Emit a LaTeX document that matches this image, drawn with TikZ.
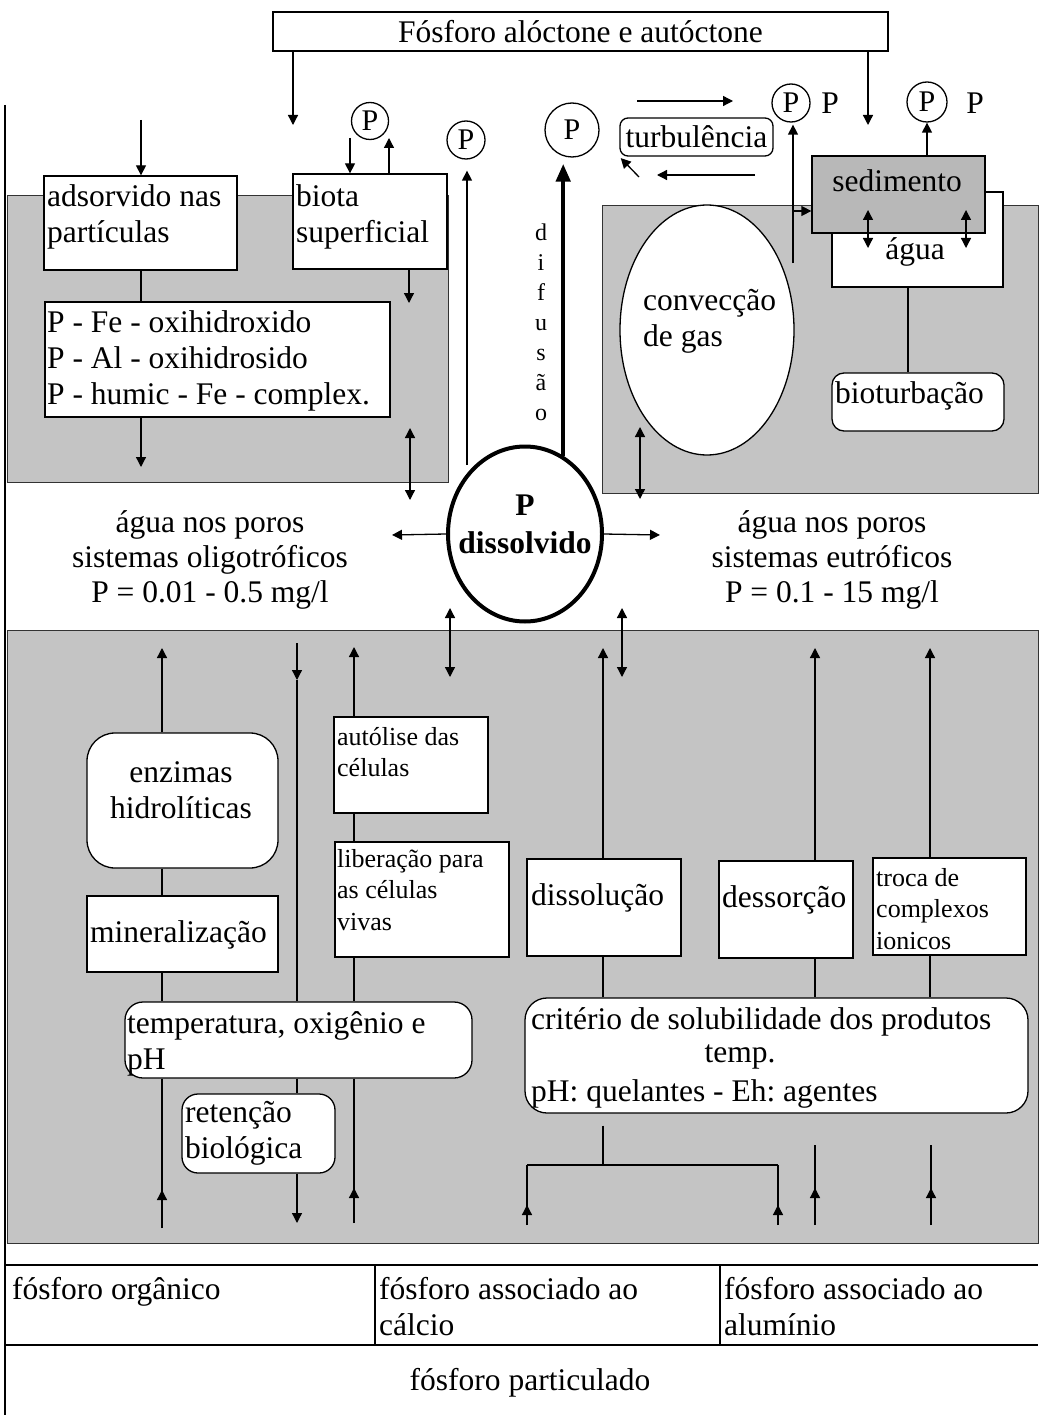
\documentclass[tikz,border=0pt]{standalone}
\usepackage{fontspec}
\setmainfont{Liberation Serif}
\usetikzlibrary{arrows.meta,shapes.geometric}
\begin{document}
\frenchspacing
\begin{tikzpicture}[x=1pt,y=-1pt,
  every node/.style={font=\fontsize{31.5}{36}\selectfont},
  shadearea/.style={fill=black!23, draw=black!80, line width=0.9pt},
  box/.style={draw, fill=white, line width=1.3pt, inner sep=0pt},
  rbox/.style={box, rounded corners=#1},
  txt/.style={inner sep=0pt, align=left, anchor=west},
  ctxt/.style={inner sep=0pt, align=center},
  small/.style={font=\fontsize{26}{31.5}\selectfont},
  ln/.style={line width=1.3pt},
  arr/.style={line width=1.3pt, -{Triangle[length=10pt,width=10pt]}},
  darr/.style={line width=1.3pt, {Triangle[length=10pt,width=10pt]}-{Triangle[length=10pt,width=10pt]}},
  pc/.style={circle, draw, line width=1.3pt, inner sep=0pt, minimum size=#1, font=\fontsize{30}{32}\selectfont},
]
\useasboundingbox (0,0) rectangle (1038,1415);
\fill[white] (0,0) rectangle (1038,1415);

% shaded areas
\path[shadearea] (7,195) rectangle (448,482);
\path[shadearea] (602,205) rectangle (1038,493);
\path[shadearea] (7,630) rectangle (1038,1243);

% frame and table
\draw[ln] (5,105) -- (5,1415);
\draw[ln] (5,1265) -- (1038,1265);
\draw[ln] (5,1345) -- (1038,1345);
\draw[ln] (375,1265) -- (375,1345);
\draw[ln] (720,1265) -- (720,1345);

% ---------- top part ----------
\node[box, minimum width=615pt, minimum height=39pt] (topbox) at (580.5,31.5) {Fósforo alóctone e autóctone};
\node[box, minimum width=193pt, minimum height=94pt] (ads) at (140.5,223) {};
\node[txt] (adst) at (47,217) {adsorvido nas\\partículas};
\node[box, minimum width=154pt, minimum height=95pt] (biota) at (370,221.5) {};
\node[txt] (biotat) at (296,217) {biota\\superficial};
\node[box, minimum width=345pt, minimum height=115pt] (pfe) at (217.5,359.5) {};
\node[txt] (pfet) at (47,361) {P - Fe - oxihidroxido\\P - Al - oxihidrosido\\P - humic - Fe - complex.};

\node[pc=37pt] (p1) at (370,121) {P};
\node[pc=38pt] (p2) at (466,140) {P};
\node[pc=54pt] (p3) at (572,130) {P};
\node[pc=38pt] (p4) at (791,103) {P};
\node[pc=40pt] (p5) at (927,102) {P};
\node[ctxt] (pl1) at (830,103) {P};
\node[ctxt] (pl2) at (975,103) {P};

\node[rbox=8pt, minimum width=153pt, minimum height=38pt] (turb) at (696.5,137) {turbulência};
\node[ellipse, draw, fill=white, line width=1.3pt, minimum width=174pt, minimum height=250pt, inner sep=0pt] (conv) at (707,330) {};
\node[txt] (convt) at (643,321) {convecção\\de gas};

\node[box, minimum width=171pt, minimum height=95pt] (agua) at (917.5,239.5) {};
\node[ctxt] (aguat) at (915,252) {água};
\node[box, fill=black!28, minimum width=173pt, minimum height=77pt] (sed) at (898.5,194.5) {};
\node[ctxt] (sedt) at (897,181) {sedimento};
\node[rbox=12pt, minimum width=172pt, minimum height=58pt] (biot) at (918,402) {};
\node[txt] (biott) at (835,396) {bioturbação};

\node[ellipse, draw, fill=white, line width=4pt, minimum width=154pt, minimum height=175pt, inner sep=0pt] (dis) at (525,534) {};
\node[ctxt, font=\fontsize{31.5}{38}\selectfont\bfseries] (dist) at (525,524) {P\\dissolvido};
\node[ctxt, font=\fontsize{24}{30}\selectfont] (dif) at (541,322) {d\\i\\f\\u\\s\\ã\\o};
\node[ctxt, font=\fontsize{31.5}{35}\selectfont] (poroL) at (210,560) {água nos poros\\sistemas oligotróficos\\P = 0.01 - 0.5 mg/l};
\node[ctxt, font=\fontsize{31.5}{35}\selectfont] (poroR) at (832,560) {água nos poros\\sistemas eutróficos\\P = 0.1 - 15 mg/l};

% ---------- bottom part ----------
\node[rbox=28pt, minimum width=191pt, minimum height=135pt] (enz) at (182.5,800.5) {};
\node[ctxt] (enzt) at (181,790) {enzimas\\hidrolíticas};
\node[box, minimum width=191pt, minimum height=76pt] (mineral) at (182.5,934) {};
\node[txt] (minert) at (90,935) {mineralização};
\node[box, minimum width=154pt, minimum height=96pt] (auto) at (411,765) {};
\node[txt, small] (autot) at (337,752) {autólise das\\células};
\node[box, minimum width=174pt, minimum height=115pt] (liber) at (422,899.5) {};
\node[txt, small] (libert) at (337,890) {liberação para\\as células\\vivas};
\node[rbox=18pt, minimum width=347pt, minimum height=76pt] (temp) at (298.5,1040) {};
\node[txt] (tempt) at (127,1044) {temperatura, oxigênio e\\pH};
\node[rbox=16pt, minimum width=153pt, minimum height=79pt] (ret) at (258.5,1133.5) {};
\node[txt] (rett) at (185,1133.5) {retenção\\biológica};
\node[box, minimum width=154pt, minimum height=97pt] (dissol) at (604,907.5) {};
\node[txt] (dissolt) at (531,898) {dissolução};
\node[box, minimum width=134pt, minimum height=97pt] (dessor) at (786,909.5) {};
\node[txt] (dessort) at (722,900) {dessorção};
\node[box, minimum width=153pt, minimum height=97pt] (troca) at (949.5,906.5) {};
\node[txt, small] (trocat) at (876,909) {troca de\\complexos\\ionicos};
\node[rbox=22pt, minimum width=503pt, minimum height=115pt] (crit) at (776.5,1055.5) {};
\node[txt] (critt1) at (531,1022) {critério de solubilidade dos produtos};
\node[ctxt] (critt2) at (740,1057) {temp.};
\node[txt] (critt3) at (531,1094) {pH: quelantes - Eh: agentes};

\node[txt] (torg) at (12,1292) {fósforo orgânico};
\node[txt] (tcal) at (379,1307) {fósforo associado ao\\cálcio};
\node[txt] (talu) at (724,1307) {fósforo associado ao\\alumínio};
\node[ctxt] (tpart) at (530,1383) {fósforo particulado};

% ---------- coordinates (free ends / guides) ----------
\coordinate (e1) at (293,125);
\coordinate (e2) at (868,125);
\coordinate (e3) at (141,120);
\coordinate (g1) at (141,0);
\coordinate (e5) at (141,467);
\coordinate (e6) at (350,138);
\coordinate (e7) at (389,138);
\coordinate (e8) at (409,303);
\coordinate (e9a) at (410,428);
\coordinate (e9b) at (410,500);
\coordinate (e10) at (467,465);
\coordinate (e12a) at (637,101);
\coordinate (e12b) at (733,101);
\coordinate (e13a) at (755,175);
\coordinate (e13b) at (657,175);
\coordinate (e14) at (639,177);
\coordinate (e15) at (793,263);
\coordinate (e16) at (793,211);
\coordinate (e18a) at (868,210);
\coordinate (e18b) at (868,248);
\coordinate (e18c) at (966,210);
\coordinate (e18d) at (966,248);
\coordinate (g19) at (908,0);
\coordinate (e20a) at (640,427);
\coordinate (e20b) at (640,499);
\coordinate (e21) at (392,535);
\coordinate (e22) at (660,535);

\coordinate (f1) at (162,648);
\coordinate (g2) at (162,0);
\coordinate (f2) at (162,1228);
\coordinate (f2t) at (162,1190);
\coordinate (f3) at (297,643);
\coordinate (f3t) at (297,680);
\coordinate (g3) at (297,0);
\coordinate (f4) at (297,1223);
\coordinate (f5) at (354,647);
\coordinate (g5) at (354,0);
\coordinate (f6) at (354,1223);
\coordinate (f6t) at (354,1188);
\coordinate (f7a) at (450,608);
\coordinate (f7b) at (450,677);
\coordinate (f8a) at (622,608);
\coordinate (f8b) at (622,677);
\coordinate (f9) at (603,648);
\coordinate (g9) at (603,0);
\coordinate (f10) at (603,1165);
\coordinate (f11) at (527,1165);
\coordinate (f11b) at (527,1225);
\coordinate (f11t) at (527,1205);
\coordinate (f12) at (778,1165);
\coordinate (f12b) at (778,1225);
\coordinate (f12t) at (778,1205);
\coordinate (f13) at (815,648);
\coordinate (g13) at (815,0);
\coordinate (f13a) at (815,1145);
\coordinate (f13b) at (815,1225);
\coordinate (f13t) at (815,1188);
\coordinate (f14) at (930,648);
\coordinate (g14) at (930,0);
\coordinate (f14a) at (931,1145);
\coordinate (f14b) at (931,1225);
\coordinate (f14t) at (931,1188);

% ---------- connectors top ----------
\draw[arr] (topbox.south -| e1) -- (e1);
\draw[arr] (topbox.south -| e2) -- (e2);
\draw[arr] (e3) -- (ads.north -| e3);
\draw[ln] (ads.south -| g1) -- (pfe.north -| g1);
\draw[arr] (pfe.south -| e5) -- (e5);
\draw[arr] (e6) -- (biota.north -| e6);
\draw[arr] (biota.north -| e7) -- (e7);
\draw[arr] (biota.south -| e8) -- (e8);
\draw[darr] (e9a) -- (e9b);
\draw[arr, shorten >=11pt] (e10) -- (p2.south -| e10);
\draw[line width=4.5pt, -{Triangle[length=18pt,width=14pt]}, shorten >=6pt] (dis.64) -- (dis.64 |- p3.south);
\draw[arr] (e12a) -- (e12b);
\draw[arr] (e13a) -- (e13b);
\draw[arr, shorten >=2pt] (e14) -- (turb.south west);
\draw[arr, shorten >=2pt] (e15) -- (p4.south -| e15);
\draw[arr] (e16) -- (sed.west |- e16);
\draw[arr] (sed.north -| p5) -- (p5.south);
\draw[darr] (e18a) -- (e18b);
\draw[darr] (e18c) -- (e18d);
\draw[ln] (agua.south -| g19) -- (biot.north -| g19);
\draw[darr] (e20a) -- (e20b);
\draw[arr] (dis.west) -- (e21);
\draw[arr] (dis.east) -- (e22);

% ---------- connectors bottom ----------
\draw[arr] (enz.north -| f1) -- (f1);
\draw[ln] (enz.south -| g2) -- (mineral.north -| g2);
\draw[ln] (mineral.south -| g2) -- (temp.north -| g2);
\draw[ln] (temp.south -| f2) -- (f2);
\draw[arr] (f2) -- (f2t);
\draw[arr] (f3) -- (f3t);
\draw[ln] (f3t) -- (temp.north -| f3t);
\draw[ln] (temp.south -| g3) -- (ret.north -| g3);
\draw[arr] (ret.south -| f4) -- (f4);
\draw[arr] (auto.north -| f5) -- (f5);
\draw[ln] (auto.south -| g5) -- (liber.north -| g5);
\draw[ln] (liber.south -| g5) -- (temp.north -| g5);
\draw[ln] (temp.south -| f6) -- (f6);
\draw[arr] (f6) -- (f6t);
\draw[darr] (f7a) -- (f7b);
\draw[darr] (f8a) -- (f8b);
\draw[arr] (dissol.north -| f9) -- (f9);
\draw[ln] (dissol.south -| g9) -- (crit.north -| g9);
\draw[ln, shorten <=12pt] (crit.south -| f10) -- (f10);
\draw[ln] (f11) -- (f12);
\draw[ln] (f11) -- (f11b);
\draw[arr] (f11b) -- (f11t);
\draw[ln] (f12) -- (f12b);
\draw[arr] (f12b) -- (f12t);
\draw[arr] (dessor.north -| f13) -- (f13);
\draw[ln] (dessor.south -| g13) -- (crit.north -| g13);
\draw[ln] (f13a) -- (f13b);
\draw[arr] (f13b) -- (f13t);
\draw[arr] (troca.north -| f14) -- (f14);
\draw[ln] (troca.south -| g14) -- (crit.north -| g14);
\draw[ln] (f14a) -- (f14b);
\draw[arr] (f14b) -- (f14t);
\end{tikzpicture}
\end{document}
